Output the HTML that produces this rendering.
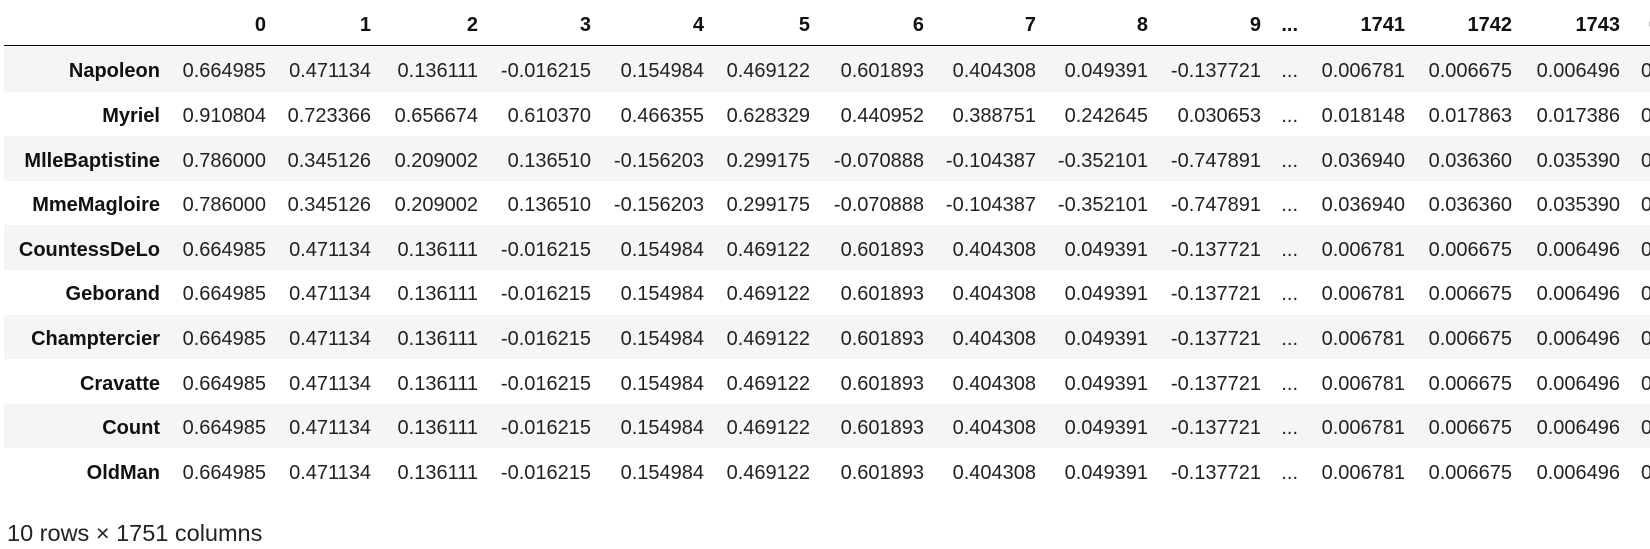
<!DOCTYPE html>
<html><head><meta charset="utf-8"><style>
body{margin:0;width:1650px;height:549px;overflow:hidden;background:#fff;font-family:"Liberation Sans",Arial,sans-serif;font-size:20px;color:#111;position:relative}
.c{position:absolute;white-space:nowrap;line-height:24px;height:24px}
.r{text-align:right}
.b{font-weight:bold}
.d{color:#222}
.stripe{position:absolute;left:4px;width:1646px;height:44.6px;background:#f5f5f5}
</style></head><body>
<div id="tbl"></div>
<div class="c" style="left:7px;top:519px;font-size:23.5px;line-height:28px;height:28px;color:#222">10 rows × 1751 columns</div>
<script>
const colLabels=["0","1","2","3","4","5","6","7","8","9","...","1741","1742","1743"];
const rowLabels=["Napoleon","Myriel","MlleBaptistine","MmeMagloire","CountessDeLo","Geborand","Champtercier","Cravatte","Count","OldMan"];
const rowA=["0.664985","0.471134","0.136111","-0.016215","0.154984","0.469122","0.601893","0.404308","0.049391","-0.137721","...","0.006781","0.006675","0.006496"];
const rowB=["0.910804","0.723366","0.656674","0.610370","0.466355","0.628329","0.440952","0.388751","0.242645","0.030653","...","0.018148","0.017863","0.017386"];
const rowC=["0.786000","0.345126","0.209002","0.136510","-0.156203","0.299175","-0.070888","-0.104387","-0.352101","-0.747891","...","0.036940","0.036360","0.035390"];
const rowData=[rowA,rowB,rowC,rowC,rowA,rowA,rowA,rowA,rowA,rowA];
const rights=[266,371,478,591,704,810,924,1036,1148,1261,1298,1405,1512,1620];
const tbl=document.getElementById('tbl');
const rowH=44.6, top0=47;
function cell(txt,right,cy,bold,name){
  const d=document.createElement('div');
  d.className='c r'+(bold?' b':' d');
  d.style.right=(1650-right)+'px';
  d.style.top=(cy-12)+'px';
  d.textContent=txt;
  
  
  tbl.appendChild(d);
}
for(let i=0;i<rowLabels.length;i++){
  if(i%2===0){
    const s=document.createElement('div');
    s.className='stripe';
    s.style.top=(top0+i*rowH)+'px';
    
    
    tbl.appendChild(s);
  }
}
const hl=document.createElement('div');
hl.style.cssText='position:absolute;left:4px;top:45px;width:1646px;height:1px;background:#000';


tbl.appendChild(hl);
colLabels.forEach((c,j)=>cell(c,rights[j],25,true,'column-header'));
cell('0',1660,25,true,'column-header');
rowLabels.forEach((r,i)=>{
  const cy=top0+i*rowH+rowH/2+2;
  cell(r,160,cy,true,'row-label');
  rowData[i].forEach((v,j)=>cell(v,rights[j],cy,false,'data-cell'));
  const p=document.createElement('div');
  p.className='c d';
  p.style.left='1641px';
  p.style.top=(cy-12)+'px';
  p.textContent='0.0';
  
  
  tbl.appendChild(p);
});
</script>
</body></html>
